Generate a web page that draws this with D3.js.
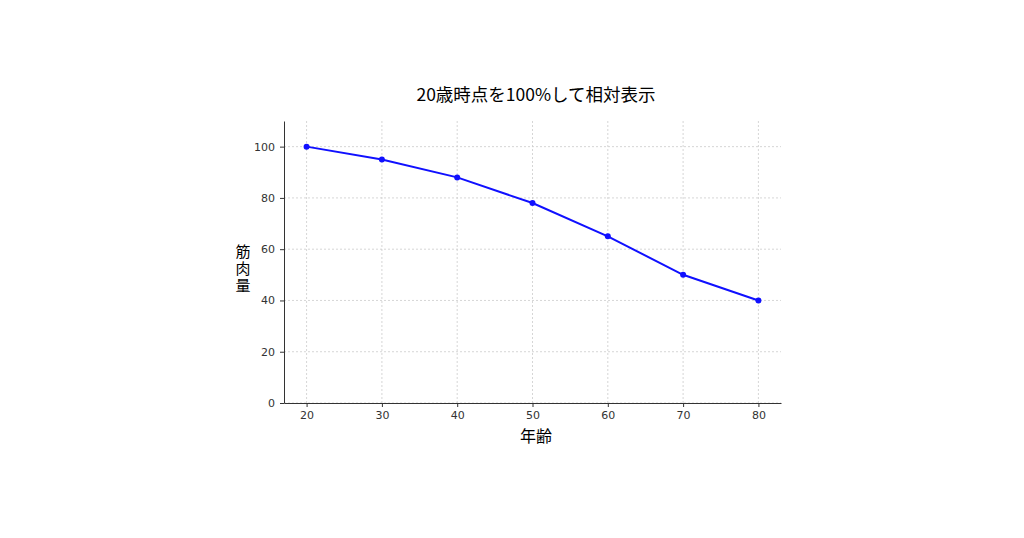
<!DOCTYPE html>
<html><head><meta charset="utf-8">
<script src="https://cdn.jsdelivr.net/npm/d3@7/dist/d3.min.js"></script>
<style>body{margin:0;background:#fff}text{font-family:"Noto Sans CJK JP","DejaVu Sans",sans-serif}</style>
</head><body><svg id="c" width="1024" height="538"></svg>
<script>
const ages=[20,30,40,50,60,70,80];
const muscle=[100,95,88,78,65,50,40];
const xTicks=[20,30,40,50,60,70,80];
const yTicks=[0,20,40,60,80,100];
const svg=d3.select("#c");
const L=284,R=781,T=121,B=403;
const x=d3.scaleLinear().domain([17,83]).range([L,R]);
const y=d3.scaleLinear().domain([0,110]).range([B,T]);
const g=svg.append("g");
g.selectAll(".gx").data(xTicks).join("line").attr("x1",d=>x(d)).attr("x2",d=>x(d)).attr("y1",T).attr("y2",B).attr("stroke","#ccc").attr("stroke-dasharray","2,2").attr("stroke-width",0.8);
g.selectAll(".gy").data(yTicks).join("line").attr("x1",L).attr("x2",R).attr("y1",d=>y(d)).attr("y2",d=>y(d)).attr("stroke","#ccc").attr("stroke-dasharray","2,2").attr("stroke-width",0.8);
const xa=svg.append("g").attr("transform",`translate(0,${B})`).call(d3.axisBottom(x).tickValues(xTicks).tickSize(4).tickPadding(4).tickSizeOuter(0));
const ya=svg.append("g").attr("transform",`translate(${L},0)`).call(d3.axisLeft(y).tickValues(yTicks).tickSize(4).tickPadding(5).tickSizeOuter(0));
[xa,ya].forEach(a=>{a.selectAll("text").attr("font-size",11).attr("fill","#333").style("font-family","DejaVu Sans");a.selectAll("path,line").attr("stroke","#333");});
svg.append("path").datum(ages.map((a,i)=>[a,muscle[i]])).attr("fill","none").attr("stroke","#1010ff").attr("stroke-width",2)
 .attr("d",d3.line().x(d=>x(d[0])).y(d=>y(d[1])));
svg.selectAll(".pt").data(ages).join("circle").attr("cx",d=>x(d)).attr("cy",(d,i)=>y(muscle[i])).attr("r",3).attr("fill","#1010ff");
svg.append("text").attr("x",536).attr("y",101).attr("text-anchor","middle").attr("font-size",17.5).text("20歳時点を100%して相対表示");
svg.append("text").attr("x",536).attr("y",442).attr("text-anchor","middle").attr("font-size",16).text("年齢");
["筋","肉","量"].forEach((c,i)=>svg.append("text").attr("x",243).attr("y",257+i*17).attr("text-anchor","middle").attr("font-size",15).attr("dominant-baseline","auto").text(c));
</script></body></html>
